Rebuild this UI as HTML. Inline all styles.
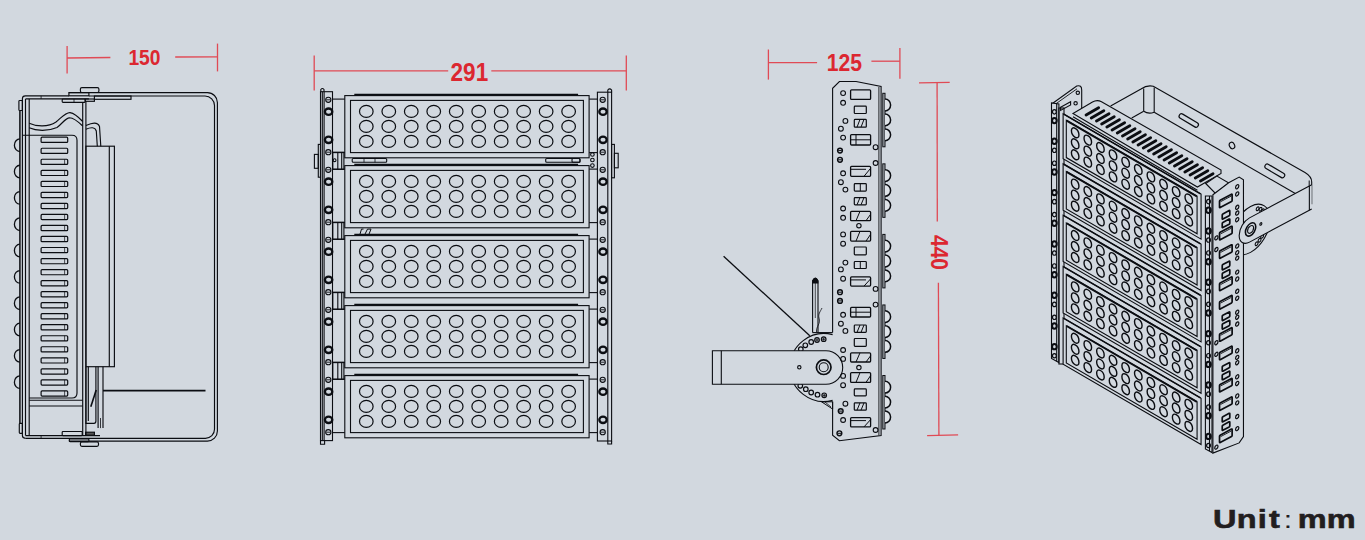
<!DOCTYPE html><html><head><meta charset="utf-8"><title>Dimensions</title><style>html,body{margin:0;padding:0;background:#d2d8df;}body{width:1365px;height:540px;overflow:hidden;font-family:"Liberation Sans",sans-serif;}svg{display:block;}</style></head><body>
<svg width="1365" height="540" viewBox="0 0 1365 540">
<rect width="1365" height="540" fill="#d2d8df"/>
<g stroke="#0b0d12" stroke-width="1.15" fill="none">
<path d="M68.9 92.6 H207.4 A10 10 0 0 1 217.4 102.6 V431.1 A10 10 0 0 1 207.4 441.1 H68.9"/>
<path d="M88.9 96 H205 A9.5 9.5 0 0 1 214.5 105.5 V429.3 A9 9 0 0 1 205.5 438.3 H25.4"/>
<rect x="94.4" y="96" width="36.6" height="3.3"/>
<rect x="68.9" y="92.6" width="20" height="3.2"/>
<rect x="80.4" y="87.6" width="18.5" height="4.9" rx="1.5"/>
<rect x="62.2" y="99" width="23" height="3.4" rx="0.8"/>
<rect x="85.2" y="99" width="9.2" height="2.3"/>
<line x1="74" y1="99" x2="74" y2="102.4" stroke-width="0.8"/>
<path d="M22.4 112 V98.7 Q22.4 95.8 25.4 95.8 H68.9"/>
<line x1="25.5" y1="98.9" x2="88.9" y2="98.9"/>
<line x1="41.1" y1="95.8" x2="41.1" y2="98.9" stroke-width="0.8"/>
<rect x="18.9" y="100.5" width="3.5" height="10" rx="0.8"/>
<line x1="25.5" y1="435.6" x2="100" y2="435.6"/>
<path d="M22.4 420 V435.6 Q22.4 438.3 25.4 438.3"/>
<line x1="41.1" y1="435.6" x2="41.1" y2="438.3" stroke-width="0.8"/>
<rect x="19.3" y="423.3" width="3.1" height="10" rx="0.8"/>
<rect x="62.2" y="431.5" width="20" height="4.1" rx="0.8"/>
<rect x="85.6" y="432.2" width="8.8" height="3" fill="#555"/>
<rect x="69.3" y="438.9" width="19.6" height="2.7" rx="0.8"/>
<rect x="80.4" y="441.9" width="18.1" height="4.4" rx="1.5"/>
<line x1="19.9" y1="111" x2="19.9" y2="423" stroke-width="1.5"/>
<line x1="22.4" y1="112" x2="22.4" y2="420"/>
<line x1="25.5" y1="98.9" x2="25.5" y2="435.6"/>
<line x1="29.2" y1="98.9" x2="29.2" y2="435.6"/>
<path d="M22.4 135.2 H72 Q77 135.2 77 140.2 V393 Q77 398 72 398 H29.2"/>
<line x1="29.2" y1="400.2" x2="82.7" y2="400.2"/>
<line x1="29.2" y1="406" x2="82.7" y2="406"/>
<line x1="82.7" y1="102.4" x2="82.7" y2="435.6"/>
<line x1="85.9" y1="101.3" x2="85.9" y2="435.6"/>
<path d="M29.2 123.3 C36 126.5 48 127.5 56 122 C62 117 66 112.3 70 112.6 C75 113.3 79 117.5 82.7 121.5"/>
<path d="M29.2 127.8 C36 131 48 131.5 57 127.5 C62 124 65.5 117.8 69.5 117.8 C74 118 78.5 122 82.7 126"/>
<path d="M85.9 125.5 C92 123 97.5 121.5 99.5 126.5 L100.8 146.2"/>
<path d="M85.9 129.2 C91 127 95 127 96.3 131 L97.3 146.2"/>
<rect x="85.9" y="146.2" width="28.5" height="220.5"/>
<line x1="109.3" y1="146.2" x2="109.3" y2="366.7"/>
<path d="M85.9 366.7 V423.3 H94 Q95.9 423.3 95.9 421 V366.7"/>
<line x1="88.3" y1="366.7" x2="88.3" y2="421"/>
<line x1="98.1" y1="366.7" x2="98.1" y2="428.1"/>
<line x1="103" y1="366.7" x2="103" y2="428.1"/>
<line x1="100.5" y1="418" x2="100.5" y2="428.1" stroke-width="0.8"/>
<path d="M90.8 406.7 L96.2 390" stroke-width="1.6"/>
<rect x="41.1" y="137.2" width="26.6" height="5.2" stroke-width="1.2" rx="1"/>
<rect x="41.1" y="148.23" width="26.6" height="5.2" stroke-width="1.2" rx="1"/>
<rect x="41.1" y="159.26" width="26.6" height="5.2" stroke-width="1.2" rx="1"/>
<line x1="64.6" y1="159.26" x2="64.6" y2="164.46" stroke-width="0.7"/>
<rect x="41.1" y="170.29" width="26.6" height="5.2" stroke-width="1.2" rx="1"/>
<line x1="64.6" y1="170.29" x2="64.6" y2="175.49" stroke-width="0.7"/>
<rect x="41.1" y="181.32" width="26.6" height="5.2" stroke-width="1.2" rx="1"/>
<line x1="64.6" y1="181.32" x2="64.6" y2="186.52" stroke-width="0.7"/>
<rect x="41.1" y="192.35" width="26.6" height="5.2" stroke-width="1.2" rx="1"/>
<line x1="64.6" y1="192.35" x2="64.6" y2="197.55" stroke-width="0.7"/>
<rect x="41.1" y="203.38" width="26.6" height="5.2" stroke-width="1.2" rx="1"/>
<line x1="64.6" y1="203.38" x2="64.6" y2="208.58" stroke-width="0.7"/>
<rect x="41.1" y="214.41" width="26.6" height="5.2" stroke-width="1.2" rx="1"/>
<line x1="64.6" y1="214.41" x2="64.6" y2="219.61" stroke-width="0.7"/>
<rect x="41.1" y="225.44" width="26.6" height="5.2" stroke-width="1.2" rx="1"/>
<line x1="64.6" y1="225.44" x2="64.6" y2="230.64" stroke-width="0.7"/>
<rect x="41.1" y="236.47" width="26.6" height="5.2" stroke-width="1.2" rx="1"/>
<line x1="64.6" y1="236.47" x2="64.6" y2="241.67" stroke-width="0.7"/>
<rect x="41.1" y="247.5" width="26.6" height="5.2" stroke-width="1.2" rx="1"/>
<line x1="64.6" y1="247.5" x2="64.6" y2="252.7" stroke-width="0.7"/>
<rect x="41.1" y="258.53" width="26.6" height="5.2" stroke-width="1.2" rx="1"/>
<line x1="64.6" y1="258.53" x2="64.6" y2="263.73" stroke-width="0.7"/>
<rect x="41.1" y="269.56" width="26.6" height="5.2" stroke-width="1.2" rx="1"/>
<line x1="64.6" y1="269.56" x2="64.6" y2="274.76" stroke-width="0.7"/>
<rect x="41.1" y="280.59" width="26.6" height="5.2" stroke-width="1.2" rx="1"/>
<line x1="64.6" y1="280.59" x2="64.6" y2="285.79" stroke-width="0.7"/>
<rect x="41.1" y="291.62" width="26.6" height="5.2" stroke-width="1.2" rx="1"/>
<line x1="64.6" y1="291.62" x2="64.6" y2="296.82" stroke-width="0.7"/>
<rect x="41.1" y="302.65" width="26.6" height="5.2" stroke-width="1.2" rx="1"/>
<line x1="64.6" y1="302.65" x2="64.6" y2="307.85" stroke-width="0.7"/>
<rect x="41.1" y="313.68" width="26.6" height="5.2" stroke-width="1.2" rx="1"/>
<line x1="64.6" y1="313.68" x2="64.6" y2="318.88" stroke-width="0.7"/>
<rect x="41.1" y="324.71" width="26.6" height="5.2" stroke-width="1.2" rx="1"/>
<line x1="64.6" y1="324.71" x2="64.6" y2="329.91" stroke-width="0.7"/>
<rect x="41.1" y="335.74" width="26.6" height="5.2" stroke-width="1.2" rx="1"/>
<line x1="64.6" y1="335.74" x2="64.6" y2="340.94" stroke-width="0.7"/>
<rect x="41.1" y="346.77" width="26.6" height="5.2" stroke-width="1.2" rx="1"/>
<line x1="64.6" y1="346.77" x2="64.6" y2="351.97" stroke-width="0.7"/>
<rect x="41.1" y="357.8" width="26.6" height="5.2" stroke-width="1.2" rx="1"/>
<line x1="64.6" y1="357.8" x2="64.6" y2="363" stroke-width="0.7"/>
<rect x="41.1" y="368.83" width="26.6" height="5.2" stroke-width="1.2" rx="1"/>
<line x1="64.6" y1="368.83" x2="64.6" y2="374.03" stroke-width="0.7"/>
<rect x="41.1" y="379.86" width="26.6" height="5.2" stroke-width="1.2" rx="1"/>
<line x1="64.6" y1="379.86" x2="64.6" y2="385.06" stroke-width="0.7"/>
<rect x="41.1" y="390.89" width="26.6" height="5.2" stroke-width="1.2" rx="1"/>
<line x1="64.6" y1="390.89" x2="64.6" y2="396.09" stroke-width="0.7"/>
<path d="M19.9 138.9 A5.5 6.3 0 0 0 19.9 151.5" stroke-width="1.3"/>
<path d="M19.9 165.23 A5.5 6.3 0 0 0 19.9 177.83" stroke-width="1.3"/>
<path d="M19.9 191.56 A5.5 6.3 0 0 0 19.9 204.16" stroke-width="1.3"/>
<path d="M19.9 217.89 A5.5 6.3 0 0 0 19.9 230.49" stroke-width="1.3"/>
<path d="M19.9 244.22 A5.5 6.3 0 0 0 19.9 256.82" stroke-width="1.3"/>
<path d="M19.9 270.55 A5.5 6.3 0 0 0 19.9 283.15" stroke-width="1.3"/>
<path d="M19.9 296.88 A5.5 6.3 0 0 0 19.9 309.48" stroke-width="1.3"/>
<path d="M19.9 323.21 A5.5 6.3 0 0 0 19.9 335.81" stroke-width="1.3"/>
<path d="M19.9 349.54 A5.5 6.3 0 0 0 19.9 362.14" stroke-width="1.3"/>
<path d="M19.9 375.87 A5.5 6.3 0 0 0 19.9 388.47" stroke-width="1.3"/>
</g>
<line x1="103" y1="390.7" x2="205.5" y2="390.7" stroke-width="1.8" stroke="#0b0d12"/>
<g stroke="#0b0d12" stroke-width="1.1" fill="none">
<rect x="320.5" y="91.7" width="12" height="348.9"/>
<line x1="322.3" y1="91.7" x2="322.3" y2="440.6"/>
<line x1="324.1" y1="91.7" x2="324.1" y2="440.6"/>
<path d="M320.8 91.7 V89.5 Q322.4 87.6 324 89.5 V91.7"/>
<path d="M320.5 440.6 V444.3 H324.6 V440.6"/>
<rect x="597.4" y="92.2" width="14.2" height="348.8"/>
<line x1="607.8" y1="92.2" x2="607.8" y2="441"/>
<path d="M607.8 92.2 V90 Q609.7 87.8 611.6 90 V92.2"/>
<path d="M607.8 441 V444 H611.6 V441"/>
<rect x="318.3" y="144.4" width="2.2" height="32.8"/>
<rect x="314.4" y="154.4" width="3.9" height="13.9"/>
<rect x="611.6" y="144.4" width="2.8" height="33.4"/>
<rect x="614.4" y="153.3" width="3.8" height="14.5"/>
<circle cx="328.3" cy="99.8" r="2.6" stroke-width="1.1"/>
<line x1="326.3" y1="99.8" x2="330.3" y2="99.8" stroke-width="0.9"/>
<ellipse cx="328.6" cy="111.7" rx="3.7" ry="3.2" stroke-width="2.3"/>
<ellipse cx="328.6" cy="139.8" rx="3.7" ry="3.2" stroke-width="2.3"/>
<circle cx="328.3" cy="152.2" r="2.6" stroke-width="1.1"/>
<line x1="326.3" y1="152.2" x2="330.3" y2="152.2" stroke-width="0.9"/>
<circle cx="602.7" cy="99.8" r="2.6" stroke-width="1.1"/>
<line x1="600.7" y1="99.8" x2="604.7" y2="99.8" stroke-width="0.9"/>
<ellipse cx="603" cy="111.7" rx="3.7" ry="3.2" stroke-width="2.3"/>
<ellipse cx="603" cy="139.8" rx="3.7" ry="3.2" stroke-width="2.3"/>
<circle cx="602.7" cy="152.2" r="2.6" stroke-width="1.1"/>
<line x1="600.7" y1="152.2" x2="604.7" y2="152.2" stroke-width="0.9"/>
<circle cx="328.3" cy="169.8" r="2.6" stroke-width="1.1"/>
<line x1="326.3" y1="169.8" x2="330.3" y2="169.8" stroke-width="0.9"/>
<ellipse cx="328.6" cy="181.7" rx="3.7" ry="3.2" stroke-width="2.3"/>
<ellipse cx="328.6" cy="209.8" rx="3.7" ry="3.2" stroke-width="2.3"/>
<circle cx="328.3" cy="222.2" r="2.6" stroke-width="1.1"/>
<line x1="326.3" y1="222.2" x2="330.3" y2="222.2" stroke-width="0.9"/>
<circle cx="602.7" cy="169.8" r="2.6" stroke-width="1.1"/>
<line x1="600.7" y1="169.8" x2="604.7" y2="169.8" stroke-width="0.9"/>
<ellipse cx="603" cy="181.7" rx="3.7" ry="3.2" stroke-width="2.3"/>
<ellipse cx="603" cy="209.8" rx="3.7" ry="3.2" stroke-width="2.3"/>
<circle cx="602.7" cy="222.2" r="2.6" stroke-width="1.1"/>
<line x1="600.7" y1="222.2" x2="604.7" y2="222.2" stroke-width="0.9"/>
<circle cx="328.3" cy="239.8" r="2.6" stroke-width="1.1"/>
<line x1="326.3" y1="239.8" x2="330.3" y2="239.8" stroke-width="0.9"/>
<ellipse cx="328.6" cy="251.7" rx="3.7" ry="3.2" stroke-width="2.3"/>
<ellipse cx="328.6" cy="279.8" rx="3.7" ry="3.2" stroke-width="2.3"/>
<circle cx="328.3" cy="292.2" r="2.6" stroke-width="1.1"/>
<line x1="326.3" y1="292.2" x2="330.3" y2="292.2" stroke-width="0.9"/>
<circle cx="602.7" cy="239.8" r="2.6" stroke-width="1.1"/>
<line x1="600.7" y1="239.8" x2="604.7" y2="239.8" stroke-width="0.9"/>
<ellipse cx="603" cy="251.7" rx="3.7" ry="3.2" stroke-width="2.3"/>
<ellipse cx="603" cy="279.8" rx="3.7" ry="3.2" stroke-width="2.3"/>
<circle cx="602.7" cy="292.2" r="2.6" stroke-width="1.1"/>
<line x1="600.7" y1="292.2" x2="604.7" y2="292.2" stroke-width="0.9"/>
<circle cx="328.3" cy="309.8" r="2.6" stroke-width="1.1"/>
<line x1="326.3" y1="309.8" x2="330.3" y2="309.8" stroke-width="0.9"/>
<ellipse cx="328.6" cy="321.7" rx="3.7" ry="3.2" stroke-width="2.3"/>
<ellipse cx="328.6" cy="349.8" rx="3.7" ry="3.2" stroke-width="2.3"/>
<circle cx="328.3" cy="362.2" r="2.6" stroke-width="1.1"/>
<line x1="326.3" y1="362.2" x2="330.3" y2="362.2" stroke-width="0.9"/>
<circle cx="602.7" cy="309.8" r="2.6" stroke-width="1.1"/>
<line x1="600.7" y1="309.8" x2="604.7" y2="309.8" stroke-width="0.9"/>
<ellipse cx="603" cy="321.7" rx="3.7" ry="3.2" stroke-width="2.3"/>
<ellipse cx="603" cy="349.8" rx="3.7" ry="3.2" stroke-width="2.3"/>
<circle cx="602.7" cy="362.2" r="2.6" stroke-width="1.1"/>
<line x1="600.7" y1="362.2" x2="604.7" y2="362.2" stroke-width="0.9"/>
<circle cx="328.3" cy="379.8" r="2.6" stroke-width="1.1"/>
<line x1="326.3" y1="379.8" x2="330.3" y2="379.8" stroke-width="0.9"/>
<ellipse cx="328.6" cy="391.7" rx="3.7" ry="3.2" stroke-width="2.3"/>
<ellipse cx="328.6" cy="419.8" rx="3.7" ry="3.2" stroke-width="2.3"/>
<circle cx="328.3" cy="432.2" r="2.6" stroke-width="1.1"/>
<line x1="326.3" y1="432.2" x2="330.3" y2="432.2" stroke-width="0.9"/>
<circle cx="602.7" cy="379.8" r="2.6" stroke-width="1.1"/>
<line x1="600.7" y1="379.8" x2="604.7" y2="379.8" stroke-width="0.9"/>
<ellipse cx="603" cy="391.7" rx="3.7" ry="3.2" stroke-width="2.3"/>
<ellipse cx="603" cy="419.8" rx="3.7" ry="3.2" stroke-width="2.3"/>
<circle cx="602.7" cy="432.2" r="2.6" stroke-width="1.1"/>
<line x1="600.7" y1="432.2" x2="604.7" y2="432.2" stroke-width="0.9"/>
<rect x="344.8" y="95.6" width="244.3" height="62.2"/>
<rect x="350.5" y="100.4" width="232.9" height="52.2"/>
<line x1="354.3" y1="94.7" x2="578.1" y2="94.7" stroke-width="1.7"/>
<ellipse cx="366.3" cy="111.4" rx="6.8" ry="6" stroke-width="1.2"/>
<ellipse cx="366.3" cy="126.4" rx="6.8" ry="6" stroke-width="1.2"/>
<ellipse cx="366.3" cy="141.4" rx="6.8" ry="6" stroke-width="1.2"/>
<ellipse cx="388.78" cy="111.4" rx="6.8" ry="6" stroke-width="1.2"/>
<ellipse cx="388.78" cy="126.4" rx="6.8" ry="6" stroke-width="1.2"/>
<ellipse cx="388.78" cy="141.4" rx="6.8" ry="6" stroke-width="1.2"/>
<ellipse cx="411.26" cy="111.4" rx="6.8" ry="6" stroke-width="1.2"/>
<ellipse cx="411.26" cy="126.4" rx="6.8" ry="6" stroke-width="1.2"/>
<ellipse cx="411.26" cy="141.4" rx="6.8" ry="6" stroke-width="1.2"/>
<ellipse cx="433.74" cy="111.4" rx="6.8" ry="6" stroke-width="1.2"/>
<ellipse cx="433.74" cy="126.4" rx="6.8" ry="6" stroke-width="1.2"/>
<ellipse cx="433.74" cy="141.4" rx="6.8" ry="6" stroke-width="1.2"/>
<ellipse cx="456.22" cy="111.4" rx="6.8" ry="6" stroke-width="1.2"/>
<ellipse cx="456.22" cy="126.4" rx="6.8" ry="6" stroke-width="1.2"/>
<ellipse cx="456.22" cy="141.4" rx="6.8" ry="6" stroke-width="1.2"/>
<ellipse cx="478.7" cy="111.4" rx="6.8" ry="6" stroke-width="1.2"/>
<ellipse cx="478.7" cy="126.4" rx="6.8" ry="6" stroke-width="1.2"/>
<ellipse cx="478.7" cy="141.4" rx="6.8" ry="6" stroke-width="1.2"/>
<ellipse cx="501.18" cy="111.4" rx="6.8" ry="6" stroke-width="1.2"/>
<ellipse cx="501.18" cy="126.4" rx="6.8" ry="6" stroke-width="1.2"/>
<ellipse cx="501.18" cy="141.4" rx="6.8" ry="6" stroke-width="1.2"/>
<ellipse cx="523.66" cy="111.4" rx="6.8" ry="6" stroke-width="1.2"/>
<ellipse cx="523.66" cy="126.4" rx="6.8" ry="6" stroke-width="1.2"/>
<ellipse cx="523.66" cy="141.4" rx="6.8" ry="6" stroke-width="1.2"/>
<ellipse cx="546.14" cy="111.4" rx="6.8" ry="6" stroke-width="1.2"/>
<ellipse cx="546.14" cy="126.4" rx="6.8" ry="6" stroke-width="1.2"/>
<ellipse cx="546.14" cy="141.4" rx="6.8" ry="6" stroke-width="1.2"/>
<ellipse cx="568.62" cy="111.4" rx="6.8" ry="6" stroke-width="1.2"/>
<ellipse cx="568.62" cy="126.4" rx="6.8" ry="6" stroke-width="1.2"/>
<ellipse cx="568.62" cy="141.4" rx="6.8" ry="6" stroke-width="1.2"/>
<line x1="332.5" y1="99.1" x2="344.8" y2="99.1"/>
<line x1="332.5" y1="152.6" x2="344.8" y2="152.6"/>
<line x1="589.1" y1="99.1" x2="597.4" y2="99.1"/>
<line x1="589.1" y1="152.6" x2="597.4" y2="152.6"/>
<rect x="344.8" y="165.6" width="244.3" height="62.2"/>
<rect x="350.5" y="170.4" width="232.9" height="52.2"/>
<line x1="354.3" y1="164.7" x2="578.1" y2="164.7" stroke-width="1.7"/>
<ellipse cx="366.3" cy="181.4" rx="6.8" ry="6" stroke-width="1.2"/>
<ellipse cx="366.3" cy="196.4" rx="6.8" ry="6" stroke-width="1.2"/>
<ellipse cx="366.3" cy="211.4" rx="6.8" ry="6" stroke-width="1.2"/>
<ellipse cx="388.78" cy="181.4" rx="6.8" ry="6" stroke-width="1.2"/>
<ellipse cx="388.78" cy="196.4" rx="6.8" ry="6" stroke-width="1.2"/>
<ellipse cx="388.78" cy="211.4" rx="6.8" ry="6" stroke-width="1.2"/>
<ellipse cx="411.26" cy="181.4" rx="6.8" ry="6" stroke-width="1.2"/>
<ellipse cx="411.26" cy="196.4" rx="6.8" ry="6" stroke-width="1.2"/>
<ellipse cx="411.26" cy="211.4" rx="6.8" ry="6" stroke-width="1.2"/>
<ellipse cx="433.74" cy="181.4" rx="6.8" ry="6" stroke-width="1.2"/>
<ellipse cx="433.74" cy="196.4" rx="6.8" ry="6" stroke-width="1.2"/>
<ellipse cx="433.74" cy="211.4" rx="6.8" ry="6" stroke-width="1.2"/>
<ellipse cx="456.22" cy="181.4" rx="6.8" ry="6" stroke-width="1.2"/>
<ellipse cx="456.22" cy="196.4" rx="6.8" ry="6" stroke-width="1.2"/>
<ellipse cx="456.22" cy="211.4" rx="6.8" ry="6" stroke-width="1.2"/>
<ellipse cx="478.7" cy="181.4" rx="6.8" ry="6" stroke-width="1.2"/>
<ellipse cx="478.7" cy="196.4" rx="6.8" ry="6" stroke-width="1.2"/>
<ellipse cx="478.7" cy="211.4" rx="6.8" ry="6" stroke-width="1.2"/>
<ellipse cx="501.18" cy="181.4" rx="6.8" ry="6" stroke-width="1.2"/>
<ellipse cx="501.18" cy="196.4" rx="6.8" ry="6" stroke-width="1.2"/>
<ellipse cx="501.18" cy="211.4" rx="6.8" ry="6" stroke-width="1.2"/>
<ellipse cx="523.66" cy="181.4" rx="6.8" ry="6" stroke-width="1.2"/>
<ellipse cx="523.66" cy="196.4" rx="6.8" ry="6" stroke-width="1.2"/>
<ellipse cx="523.66" cy="211.4" rx="6.8" ry="6" stroke-width="1.2"/>
<ellipse cx="546.14" cy="181.4" rx="6.8" ry="6" stroke-width="1.2"/>
<ellipse cx="546.14" cy="196.4" rx="6.8" ry="6" stroke-width="1.2"/>
<ellipse cx="546.14" cy="211.4" rx="6.8" ry="6" stroke-width="1.2"/>
<ellipse cx="568.62" cy="181.4" rx="6.8" ry="6" stroke-width="1.2"/>
<ellipse cx="568.62" cy="196.4" rx="6.8" ry="6" stroke-width="1.2"/>
<ellipse cx="568.62" cy="211.4" rx="6.8" ry="6" stroke-width="1.2"/>
<line x1="332.5" y1="169.1" x2="344.8" y2="169.1"/>
<line x1="332.5" y1="222.6" x2="344.8" y2="222.6"/>
<line x1="589.1" y1="169.1" x2="597.4" y2="169.1"/>
<line x1="589.1" y1="222.6" x2="597.4" y2="222.6"/>
<rect x="344.8" y="235.6" width="244.3" height="62.2"/>
<rect x="350.5" y="240.4" width="232.9" height="52.2"/>
<line x1="354.3" y1="234.7" x2="578.1" y2="234.7" stroke-width="1.7"/>
<ellipse cx="366.3" cy="251.4" rx="6.8" ry="6" stroke-width="1.2"/>
<ellipse cx="366.3" cy="266.4" rx="6.8" ry="6" stroke-width="1.2"/>
<ellipse cx="366.3" cy="281.4" rx="6.8" ry="6" stroke-width="1.2"/>
<ellipse cx="388.78" cy="251.4" rx="6.8" ry="6" stroke-width="1.2"/>
<ellipse cx="388.78" cy="266.4" rx="6.8" ry="6" stroke-width="1.2"/>
<ellipse cx="388.78" cy="281.4" rx="6.8" ry="6" stroke-width="1.2"/>
<ellipse cx="411.26" cy="251.4" rx="6.8" ry="6" stroke-width="1.2"/>
<ellipse cx="411.26" cy="266.4" rx="6.8" ry="6" stroke-width="1.2"/>
<ellipse cx="411.26" cy="281.4" rx="6.8" ry="6" stroke-width="1.2"/>
<ellipse cx="433.74" cy="251.4" rx="6.8" ry="6" stroke-width="1.2"/>
<ellipse cx="433.74" cy="266.4" rx="6.8" ry="6" stroke-width="1.2"/>
<ellipse cx="433.74" cy="281.4" rx="6.8" ry="6" stroke-width="1.2"/>
<ellipse cx="456.22" cy="251.4" rx="6.8" ry="6" stroke-width="1.2"/>
<ellipse cx="456.22" cy="266.4" rx="6.8" ry="6" stroke-width="1.2"/>
<ellipse cx="456.22" cy="281.4" rx="6.8" ry="6" stroke-width="1.2"/>
<ellipse cx="478.7" cy="251.4" rx="6.8" ry="6" stroke-width="1.2"/>
<ellipse cx="478.7" cy="266.4" rx="6.8" ry="6" stroke-width="1.2"/>
<ellipse cx="478.7" cy="281.4" rx="6.8" ry="6" stroke-width="1.2"/>
<ellipse cx="501.18" cy="251.4" rx="6.8" ry="6" stroke-width="1.2"/>
<ellipse cx="501.18" cy="266.4" rx="6.8" ry="6" stroke-width="1.2"/>
<ellipse cx="501.18" cy="281.4" rx="6.8" ry="6" stroke-width="1.2"/>
<ellipse cx="523.66" cy="251.4" rx="6.8" ry="6" stroke-width="1.2"/>
<ellipse cx="523.66" cy="266.4" rx="6.8" ry="6" stroke-width="1.2"/>
<ellipse cx="523.66" cy="281.4" rx="6.8" ry="6" stroke-width="1.2"/>
<ellipse cx="546.14" cy="251.4" rx="6.8" ry="6" stroke-width="1.2"/>
<ellipse cx="546.14" cy="266.4" rx="6.8" ry="6" stroke-width="1.2"/>
<ellipse cx="546.14" cy="281.4" rx="6.8" ry="6" stroke-width="1.2"/>
<ellipse cx="568.62" cy="251.4" rx="6.8" ry="6" stroke-width="1.2"/>
<ellipse cx="568.62" cy="266.4" rx="6.8" ry="6" stroke-width="1.2"/>
<ellipse cx="568.62" cy="281.4" rx="6.8" ry="6" stroke-width="1.2"/>
<line x1="332.5" y1="239.1" x2="344.8" y2="239.1"/>
<line x1="332.5" y1="292.6" x2="344.8" y2="292.6"/>
<line x1="589.1" y1="239.1" x2="597.4" y2="239.1"/>
<line x1="589.1" y1="292.6" x2="597.4" y2="292.6"/>
<rect x="344.8" y="305.6" width="244.3" height="62.2"/>
<rect x="350.5" y="310.4" width="232.9" height="52.2"/>
<line x1="354.3" y1="304.7" x2="578.1" y2="304.7" stroke-width="1.7"/>
<ellipse cx="366.3" cy="321.4" rx="6.8" ry="6" stroke-width="1.2"/>
<ellipse cx="366.3" cy="336.4" rx="6.8" ry="6" stroke-width="1.2"/>
<ellipse cx="366.3" cy="351.4" rx="6.8" ry="6" stroke-width="1.2"/>
<ellipse cx="388.78" cy="321.4" rx="6.8" ry="6" stroke-width="1.2"/>
<ellipse cx="388.78" cy="336.4" rx="6.8" ry="6" stroke-width="1.2"/>
<ellipse cx="388.78" cy="351.4" rx="6.8" ry="6" stroke-width="1.2"/>
<ellipse cx="411.26" cy="321.4" rx="6.8" ry="6" stroke-width="1.2"/>
<ellipse cx="411.26" cy="336.4" rx="6.8" ry="6" stroke-width="1.2"/>
<ellipse cx="411.26" cy="351.4" rx="6.8" ry="6" stroke-width="1.2"/>
<ellipse cx="433.74" cy="321.4" rx="6.8" ry="6" stroke-width="1.2"/>
<ellipse cx="433.74" cy="336.4" rx="6.8" ry="6" stroke-width="1.2"/>
<ellipse cx="433.74" cy="351.4" rx="6.8" ry="6" stroke-width="1.2"/>
<ellipse cx="456.22" cy="321.4" rx="6.8" ry="6" stroke-width="1.2"/>
<ellipse cx="456.22" cy="336.4" rx="6.8" ry="6" stroke-width="1.2"/>
<ellipse cx="456.22" cy="351.4" rx="6.8" ry="6" stroke-width="1.2"/>
<ellipse cx="478.7" cy="321.4" rx="6.8" ry="6" stroke-width="1.2"/>
<ellipse cx="478.7" cy="336.4" rx="6.8" ry="6" stroke-width="1.2"/>
<ellipse cx="478.7" cy="351.4" rx="6.8" ry="6" stroke-width="1.2"/>
<ellipse cx="501.18" cy="321.4" rx="6.8" ry="6" stroke-width="1.2"/>
<ellipse cx="501.18" cy="336.4" rx="6.8" ry="6" stroke-width="1.2"/>
<ellipse cx="501.18" cy="351.4" rx="6.8" ry="6" stroke-width="1.2"/>
<ellipse cx="523.66" cy="321.4" rx="6.8" ry="6" stroke-width="1.2"/>
<ellipse cx="523.66" cy="336.4" rx="6.8" ry="6" stroke-width="1.2"/>
<ellipse cx="523.66" cy="351.4" rx="6.8" ry="6" stroke-width="1.2"/>
<ellipse cx="546.14" cy="321.4" rx="6.8" ry="6" stroke-width="1.2"/>
<ellipse cx="546.14" cy="336.4" rx="6.8" ry="6" stroke-width="1.2"/>
<ellipse cx="546.14" cy="351.4" rx="6.8" ry="6" stroke-width="1.2"/>
<ellipse cx="568.62" cy="321.4" rx="6.8" ry="6" stroke-width="1.2"/>
<ellipse cx="568.62" cy="336.4" rx="6.8" ry="6" stroke-width="1.2"/>
<ellipse cx="568.62" cy="351.4" rx="6.8" ry="6" stroke-width="1.2"/>
<line x1="332.5" y1="309.1" x2="344.8" y2="309.1"/>
<line x1="332.5" y1="362.6" x2="344.8" y2="362.6"/>
<line x1="589.1" y1="309.1" x2="597.4" y2="309.1"/>
<line x1="589.1" y1="362.6" x2="597.4" y2="362.6"/>
<rect x="344.8" y="375.6" width="244.3" height="62.2"/>
<rect x="350.5" y="380.4" width="232.9" height="52.2"/>
<line x1="354.3" y1="374.7" x2="578.1" y2="374.7" stroke-width="1.7"/>
<ellipse cx="366.3" cy="391.4" rx="6.8" ry="6" stroke-width="1.2"/>
<ellipse cx="366.3" cy="406.4" rx="6.8" ry="6" stroke-width="1.2"/>
<ellipse cx="366.3" cy="421.4" rx="6.8" ry="6" stroke-width="1.2"/>
<ellipse cx="388.78" cy="391.4" rx="6.8" ry="6" stroke-width="1.2"/>
<ellipse cx="388.78" cy="406.4" rx="6.8" ry="6" stroke-width="1.2"/>
<ellipse cx="388.78" cy="421.4" rx="6.8" ry="6" stroke-width="1.2"/>
<ellipse cx="411.26" cy="391.4" rx="6.8" ry="6" stroke-width="1.2"/>
<ellipse cx="411.26" cy="406.4" rx="6.8" ry="6" stroke-width="1.2"/>
<ellipse cx="411.26" cy="421.4" rx="6.8" ry="6" stroke-width="1.2"/>
<ellipse cx="433.74" cy="391.4" rx="6.8" ry="6" stroke-width="1.2"/>
<ellipse cx="433.74" cy="406.4" rx="6.8" ry="6" stroke-width="1.2"/>
<ellipse cx="433.74" cy="421.4" rx="6.8" ry="6" stroke-width="1.2"/>
<ellipse cx="456.22" cy="391.4" rx="6.8" ry="6" stroke-width="1.2"/>
<ellipse cx="456.22" cy="406.4" rx="6.8" ry="6" stroke-width="1.2"/>
<ellipse cx="456.22" cy="421.4" rx="6.8" ry="6" stroke-width="1.2"/>
<ellipse cx="478.7" cy="391.4" rx="6.8" ry="6" stroke-width="1.2"/>
<ellipse cx="478.7" cy="406.4" rx="6.8" ry="6" stroke-width="1.2"/>
<ellipse cx="478.7" cy="421.4" rx="6.8" ry="6" stroke-width="1.2"/>
<ellipse cx="501.18" cy="391.4" rx="6.8" ry="6" stroke-width="1.2"/>
<ellipse cx="501.18" cy="406.4" rx="6.8" ry="6" stroke-width="1.2"/>
<ellipse cx="501.18" cy="421.4" rx="6.8" ry="6" stroke-width="1.2"/>
<ellipse cx="523.66" cy="391.4" rx="6.8" ry="6" stroke-width="1.2"/>
<ellipse cx="523.66" cy="406.4" rx="6.8" ry="6" stroke-width="1.2"/>
<ellipse cx="523.66" cy="421.4" rx="6.8" ry="6" stroke-width="1.2"/>
<ellipse cx="546.14" cy="391.4" rx="6.8" ry="6" stroke-width="1.2"/>
<ellipse cx="546.14" cy="406.4" rx="6.8" ry="6" stroke-width="1.2"/>
<ellipse cx="546.14" cy="421.4" rx="6.8" ry="6" stroke-width="1.2"/>
<ellipse cx="568.62" cy="391.4" rx="6.8" ry="6" stroke-width="1.2"/>
<ellipse cx="568.62" cy="406.4" rx="6.8" ry="6" stroke-width="1.2"/>
<ellipse cx="568.62" cy="421.4" rx="6.8" ry="6" stroke-width="1.2"/>
<line x1="332.5" y1="379.1" x2="344.8" y2="379.1"/>
<line x1="332.5" y1="432.6" x2="344.8" y2="432.6"/>
<line x1="589.1" y1="379.1" x2="597.4" y2="379.1"/>
<line x1="589.1" y1="432.6" x2="597.4" y2="432.6"/>
<rect x="332.8" y="152.2" width="11.1" height="17.2"/>
<line x1="337.8" y1="152.2" x2="337.8" y2="169.4"/>
<line x1="341.7" y1="152.2" x2="341.7" y2="169.4"/>
<circle cx="334.6" cy="160.2" r="1.4"/>
<rect x="352.2" y="158.5" width="34.5" height="3.8" rx="1"/>
<line x1="364" y1="158.5" x2="364" y2="162.3" stroke-width="0.8"/>
<line x1="375" y1="158.5" x2="375" y2="162.3" stroke-width="0.8"/>
<rect x="545.7" y="158.5" width="34.3" height="3.8" rx="1"/>
<rect x="572" y="158.5" width="8" height="3.8" rx="1"/>
<circle cx="592.4" cy="154.4" r="1.8"/>
<circle cx="592.4" cy="160" r="1.8"/>
<circle cx="592.4" cy="165.6" r="1.8"/>
<rect x="332.8" y="222.2" width="11.1" height="17.2"/>
<line x1="337.8" y1="222.2" x2="337.8" y2="239.4"/>
<line x1="341.7" y1="222.2" x2="341.7" y2="239.4"/>
<line x1="360" y1="234.1" x2="361.5" y2="229.1" stroke-width="1"/>
<line x1="361.5" y1="229.1" x2="363.5" y2="229.1" stroke-width="1"/>
<line x1="365" y1="234.1" x2="367.5" y2="229.1" stroke-width="1"/>
<line x1="367.5" y1="229.1" x2="371" y2="229.1" stroke-width="1"/>
<line x1="369" y1="234.1" x2="371" y2="229.1" stroke-width="1"/>
<rect x="332.8" y="292.2" width="11.1" height="17.2"/>
<line x1="337.8" y1="292.2" x2="337.8" y2="309.4"/>
<line x1="341.7" y1="292.2" x2="341.7" y2="309.4"/>
<rect x="332.8" y="362.2" width="11.1" height="17.2"/>
<line x1="337.8" y1="362.2" x2="337.8" y2="379.4"/>
<line x1="341.7" y1="362.2" x2="341.7" y2="379.4"/>
</g>
<g stroke="#0b0d12" stroke-width="1.1" fill="none">
<line x1="723.6" y1="256.3" x2="809.8" y2="335.8" stroke-width="1.3"/>
<path d="M812.6 332.6 V281 Q815.3 275 818 281 V332.6"/>
<path d="M812.8 283 V280.5 Q815.3 276 817.8 280.5 V283 Z" fill="#0b0d12"/>
<line x1="815.3" y1="282" x2="815.3" y2="318" stroke-width="0.7"/>
<path d="M816.5 332 C816 326 821 324 819 318 C818 314 820 312 822 308" stroke-width="0.8"/>
<line x1="812.5" y1="332.6" x2="832.6" y2="332.6"/>
<path d="M832.6 334.6 A34 34 0 1 0 832.6 400.4"/>
<circle cx="800.8" cy="349.2" r="2.3" stroke-width="1.2"/>
<circle cx="805.3" cy="345.3" r="2.3" stroke-width="1.2"/>
<circle cx="811.2" cy="342" r="2.3" stroke-width="1.2"/>
<circle cx="817" cy="340" r="2.3" stroke-width="1.2"/>
<line x1="815.4" y1="340" x2="818.6" y2="340" stroke-width="0.9"/>
<line x1="817" y1="338.4" x2="817" y2="341.6" stroke-width="0.9"/>
<circle cx="823.7" cy="339.2" r="2.3" stroke-width="1.2"/>
<line x1="822.1" y1="339.2" x2="825.3" y2="339.2" stroke-width="0.9"/>
<line x1="823.7" y1="337.6" x2="823.7" y2="340.8" stroke-width="0.9"/>
<circle cx="800.3" cy="385.8" r="2.3" stroke-width="1.2"/>
<circle cx="805.8" cy="389.2" r="2.3" stroke-width="1.2"/>
<circle cx="811.2" cy="392.5" r="2.3" stroke-width="1.2"/>
<circle cx="817.5" cy="394.7" r="2.3" stroke-width="1.2"/>
<circle cx="824.2" cy="395.3" r="2.3" stroke-width="1.2"/>
<line x1="822.6" y1="395.3" x2="825.8" y2="395.3" stroke-width="0.9"/>
<line x1="824.2" y1="393.7" x2="824.2" y2="396.9" stroke-width="0.9"/>
<path d="M821.5 401.8 L832.6 401.8 L832.6 409 Z" stroke-width="1"/>
<line x1="825" y1="402" x2="831" y2="407" stroke-width="0.8"/>
<path d="M712.4 350.8 H826 A16.7 16.7 0 0 1 826 384.2 H712.4 Z" fill="#d2d8df"/>
<line x1="721.3" y1="350.8" x2="721.3" y2="384.2"/>
<circle cx="799.3" cy="367.3" r="1.7"/>
<circle cx="823.7" cy="367.2" r="7.3" stroke-width="1.7"/>
<circle cx="823.7" cy="367.2" r="4.5" stroke-width="1.1"/>
<path d="M832.6 332.6 V88.3 L839.4 81.5 H856.1 L881.1 86.5 V435.6 L839.4 440.7 L832.6 435.2 V401.5"/>
<line x1="878.9" y1="87" x2="878.9" y2="435.3" stroke-width="0.9"/>
<rect x="882.8" y="93.3" width="2.2" height="53.5" stroke-width="1" fill="#aab0b6"/>
<path d="M885 99.1 A5.6 5.9 0 0 1 885 110.9" stroke-width="1.5" fill="#dfe3e8"/>
<path d="M885 114 A5.6 5.9 0 0 1 885 125.8" stroke-width="1.5" fill="#dfe3e8"/>
<path d="M885 128.9 A5.6 5.9 0 0 1 885 140.7" stroke-width="1.5" fill="#dfe3e8"/>
<rect x="882.8" y="163.85" width="2.2" height="53.5" stroke-width="1" fill="#aab0b6"/>
<path d="M885 169.65 A5.6 5.9 0 0 1 885 181.45" stroke-width="1.5" fill="#dfe3e8"/>
<path d="M885 184.55 A5.6 5.9 0 0 1 885 196.35" stroke-width="1.5" fill="#dfe3e8"/>
<path d="M885 199.45 A5.6 5.9 0 0 1 885 211.25" stroke-width="1.5" fill="#dfe3e8"/>
<rect x="882.8" y="234.4" width="2.2" height="53.5" stroke-width="1" fill="#aab0b6"/>
<path d="M885 240.2 A5.6 5.9 0 0 1 885 252" stroke-width="1.5" fill="#dfe3e8"/>
<path d="M885 255.1 A5.6 5.9 0 0 1 885 266.9" stroke-width="1.5" fill="#dfe3e8"/>
<path d="M885 270 A5.6 5.9 0 0 1 885 281.8" stroke-width="1.5" fill="#dfe3e8"/>
<rect x="882.8" y="304.95" width="2.2" height="53.5" stroke-width="1" fill="#aab0b6"/>
<path d="M885 310.75 A5.6 5.9 0 0 1 885 322.55" stroke-width="1.5" fill="#dfe3e8"/>
<path d="M885 325.65 A5.6 5.9 0 0 1 885 337.45" stroke-width="1.5" fill="#dfe3e8"/>
<path d="M885 340.55 A5.6 5.9 0 0 1 885 352.35" stroke-width="1.5" fill="#dfe3e8"/>
<rect x="882.8" y="375.5" width="2.2" height="53.5" stroke-width="1" fill="#aab0b6"/>
<path d="M885 381.3 A5.6 5.9 0 0 1 885 393.1" stroke-width="1.5" fill="#dfe3e8"/>
<path d="M885 396.2 A5.6 5.9 0 0 1 885 408" stroke-width="1.5" fill="#dfe3e8"/>
<path d="M885 411.1 A5.6 5.9 0 0 1 885 422.9" stroke-width="1.5" fill="#dfe3e8"/>
<circle cx="843.1" cy="93.1" r="2.4" stroke-width="1.1"/>
<circle cx="843.1" cy="102.8" r="2.4" stroke-width="1.1"/>
<circle cx="845.4" cy="120.9" r="2.4" stroke-width="1.1"/>
<circle cx="840.9" cy="128.7" r="2.4" stroke-width="1.1"/>
<circle cx="843.1" cy="137.6" r="2.4" stroke-width="1.1"/>
<circle cx="843.1" cy="173.3" r="2.4" stroke-width="1.1"/>
<circle cx="840.9" cy="182.2" r="2.4" stroke-width="1.1"/>
<circle cx="845.4" cy="189.6" r="2.4" stroke-width="1.1"/>
<circle cx="843.1" cy="208.5" r="2.4" stroke-width="1.1"/>
<circle cx="843.1" cy="217.8" r="2.4" stroke-width="1.1"/>
<circle cx="843.1" cy="234.4" r="2.4" stroke-width="1.1"/>
<circle cx="843.1" cy="243.7" r="2.4" stroke-width="1.1"/>
<circle cx="845.4" cy="262.6" r="2.4" stroke-width="1.1"/>
<circle cx="840.9" cy="269.4" r="2.4" stroke-width="1.1"/>
<circle cx="843.1" cy="278.7" r="2.4" stroke-width="1.1"/>
<circle cx="843.1" cy="314.8" r="2.4" stroke-width="1.1"/>
<circle cx="840.9" cy="323.7" r="2.4" stroke-width="1.1"/>
<circle cx="845.4" cy="330.9" r="2.4" stroke-width="1.1"/>
<circle cx="843.1" cy="350" r="2.4" stroke-width="1.1"/>
<circle cx="843.1" cy="358.9" r="2.4" stroke-width="1.1"/>
<circle cx="843.1" cy="375.9" r="2.4" stroke-width="1.1"/>
<circle cx="843.1" cy="385.2" r="2.4" stroke-width="1.1"/>
<circle cx="845.4" cy="403.7" r="2.4" stroke-width="1.1"/>
<circle cx="843.1" cy="420" r="2.4" stroke-width="1.1"/>
<circle cx="875.6" cy="147.2" r="2.4" stroke-width="1.1"/>
<circle cx="875.6" cy="163" r="2.4" stroke-width="1.1"/>
<circle cx="875.6" cy="288.9" r="2.4" stroke-width="1.1"/>
<circle cx="875.6" cy="304.6" r="2.4" stroke-width="1.1"/>
<circle cx="875.6" cy="430" r="2.4" stroke-width="1.1"/>
<circle cx="840" cy="150.6" r="2.4" stroke-width="1.4"/>
<line x1="838.2" y1="150.6" x2="841.8" y2="150.6" stroke-width="1"/>
<circle cx="840" cy="159.8" r="2.4" stroke-width="1.4"/>
<line x1="838.2" y1="159.8" x2="841.8" y2="159.8" stroke-width="1"/>
<circle cx="840" cy="292.2" r="2.4" stroke-width="1.4"/>
<line x1="838.2" y1="292.2" x2="841.8" y2="292.2" stroke-width="1"/>
<circle cx="840" cy="300.9" r="2.4" stroke-width="1.4"/>
<line x1="838.2" y1="300.9" x2="841.8" y2="300.9" stroke-width="1"/>
<circle cx="840.7" cy="411.1" r="2.4" stroke-width="1.4"/>
<line x1="838.9" y1="411.1" x2="842.5" y2="411.1" stroke-width="1"/>
<circle cx="839.4" cy="433.3" r="2.4" stroke-width="1.4"/>
<line x1="837.6" y1="433.3" x2="841.2" y2="433.3" stroke-width="1"/>
<rect x="850.6" y="89.8" width="20" height="9.6" stroke-width="1.3" rx="1"/>
<rect x="850.6" y="134.6" width="20" height="10.4" stroke-width="1.3" rx="1"/>
<line x1="850.6" y1="139.8" x2="870.6" y2="139.8" stroke-width="1"/>
<line x1="856" y1="134.6" x2="856" y2="145" stroke-width="1"/>
<rect x="850.6" y="166.3" width="20" height="10" stroke-width="1.3" rx="1"/>
<line x1="850.6" y1="169.3" x2="866" y2="169.3" stroke-width="1"/>
<line x1="864" y1="176.3" x2="870.6" y2="168.3" stroke-width="1"/>
<rect x="850.6" y="211.3" width="20" height="9.4" stroke-width="1.3" rx="1"/>
<line x1="856" y1="220.7" x2="860" y2="211.3" stroke-width="1"/>
<line x1="866" y1="220.7" x2="870.6" y2="214.3" stroke-width="1"/>
<rect x="850.6" y="231.3" width="20" height="9.8" stroke-width="1.3" rx="1"/>
<line x1="856" y1="241.1" x2="860" y2="231.3" stroke-width="1"/>
<line x1="866" y1="241.1" x2="870.6" y2="234.3" stroke-width="1"/>
<rect x="850.6" y="276.9" width="20" height="9.2" stroke-width="1.3" rx="1"/>
<line x1="850.6" y1="279.9" x2="866" y2="279.9" stroke-width="1"/>
<line x1="864" y1="286.1" x2="870.6" y2="278.9" stroke-width="1"/>
<rect x="850.6" y="307.4" width="20" height="9.6" stroke-width="1.3" rx="1"/>
<line x1="850.6" y1="312.2" x2="870.6" y2="312.2" stroke-width="1"/>
<line x1="856" y1="307.4" x2="856" y2="317" stroke-width="1"/>
<rect x="850.6" y="352.8" width="20" height="9.2" stroke-width="1.3" rx="1"/>
<line x1="856" y1="362" x2="860" y2="352.8" stroke-width="1"/>
<line x1="866" y1="362" x2="870.6" y2="355.8" stroke-width="1"/>
<rect x="850.6" y="372.6" width="20" height="9.8" stroke-width="1.3" rx="1"/>
<line x1="856" y1="382.4" x2="860" y2="372.6" stroke-width="1"/>
<line x1="866" y1="382.4" x2="870.6" y2="375.6" stroke-width="1"/>
<rect x="850.6" y="417.6" width="20" height="9.3" stroke-width="1.3" rx="1"/>
<line x1="850.6" y1="420.6" x2="866" y2="420.6" stroke-width="1"/>
<line x1="864" y1="426.9" x2="870.6" y2="419.6" stroke-width="1"/>
<rect x="854.3" y="106.1" width="12" height="7.4" stroke-width="1.2" rx="0.8"/>
<rect x="854.3" y="119.4" width="12" height="7.8" stroke-width="1.2" rx="0.8"/>
<line x1="857" y1="127.2" x2="860" y2="119.4" stroke-width="1"/>
<line x1="861" y1="127.2" x2="864" y2="119.4" stroke-width="1"/>
<rect x="854.3" y="183.7" width="12" height="7.4" stroke-width="1.2" rx="0.8"/>
<line x1="860.3" y1="183.7" x2="860.3" y2="191.1" stroke-width="1"/>
<rect x="854.3" y="197.6" width="12" height="7.2" stroke-width="1.2" rx="0.8"/>
<line x1="857" y1="204.8" x2="860" y2="197.6" stroke-width="1"/>
<line x1="861" y1="204.8" x2="864" y2="197.6" stroke-width="1"/>
<rect x="854.3" y="247" width="12" height="7.8" stroke-width="1.2" rx="0.8"/>
<rect x="854.3" y="261.5" width="12" height="7" stroke-width="1.2" rx="0.8"/>
<line x1="860.3" y1="261.5" x2="860.3" y2="268.5" stroke-width="1"/>
<rect x="854.3" y="325" width="12" height="7.4" stroke-width="1.2" rx="0.8"/>
<line x1="857" y1="332.4" x2="860" y2="325" stroke-width="1"/>
<line x1="861" y1="332.4" x2="864" y2="325" stroke-width="1"/>
<rect x="854.3" y="338.5" width="12" height="7.8" stroke-width="1.2" rx="0.8"/>
<rect x="854.3" y="388.9" width="12" height="7" stroke-width="1.2" rx="0.8"/>
<rect x="854.3" y="402.8" width="12" height="7.4" stroke-width="1.2" rx="0.8"/>
<line x1="857" y1="410.2" x2="860" y2="402.8" stroke-width="1"/>
<line x1="861" y1="410.2" x2="864" y2="402.8" stroke-width="1"/>
<circle cx="858.9" cy="225.7" r="2.2" stroke-width="1.1"/>
<circle cx="858.9" cy="367.6" r="2.2" stroke-width="1.1"/>
</g>
<g stroke="#0b0d12" stroke-width="1.1" fill="none">
<path d="M1110.6 106.1 L1141 89 Q1147 84.8 1153.3 86.3 L1305 172.5 Q1311.7 176.5 1311.7 182 V204.2"/>
<line x1="1143.7" y1="88.5" x2="1143.7" y2="111.3"/>
<line x1="1154.2" y1="87.5" x2="1154.2" y2="112.2"/>
<line x1="1131.7" y1="118" x2="1143.7" y2="111.3"/>
<path d="M1143.7 111.3 Q1148.5 114.5 1154.2 112.2"/>
<line x1="1154.2" y1="112.2" x2="1295.3" y2="193.5"/>
<line x1="1309.2" y1="180.5" x2="1309.2" y2="205.5" stroke-width="1"/>
<path d="M1181.5 116.2 L1196 124.8" stroke-width="6" stroke-linecap="round"/>
<path d="M1181.5 116.2 L1196 124.8" stroke-width="3.6" stroke-linecap="round" stroke="#d2d8df"/>
<path d="M1267.3 166.5 L1282.3 175.3" stroke-width="6" stroke-linecap="round"/>
<path d="M1267.3 166.5 L1282.3 175.3" stroke-width="3.6" stroke-linecap="round" stroke="#d2d8df"/>
<ellipse cx="1232" cy="145.5" rx="2.6" ry="3.3" stroke-width="1.2" transform="rotate(-25 1232 145.5)"/>
<path d="M1051.7 104 L1076.7 86.1 Q1081.7 84.5 1081.7 90 V110" fill="#d2d8df"/>
<line x1="1053.5" y1="105.5" x2="1077" y2="88.8" stroke-width="0.9"/>
<circle cx="1077.8" cy="92.8" r="1.7"/>
<circle cx="1075.6" cy="103.3" r="1.7"/>
<polygon points="1060.6,107.2 1070.6,101.7 1070.6,104.9 1060.6,110.4"/>
<path d="M1073 113.5 L1092.5 102 Q1097 99.3 1101.5 101.7 L1221 170 L1221 173.5 L1197.4 187 Z" fill="#d2d8df"/>
<line x1="1073" y1="116.8" x2="1197.4" y2="190.3"/>
<path d="M1086.1 115 L1098.6 107.8" stroke-width="2.9" stroke-linecap="round"/>
<path d="M1091.3 118 L1103.8 110.8" stroke-width="2.9" stroke-linecap="round"/>
<path d="M1096.5 121 L1109 113.8" stroke-width="2.9" stroke-linecap="round"/>
<path d="M1101.7 124 L1114.2 116.8" stroke-width="2.9" stroke-linecap="round"/>
<path d="M1106.9 127 L1119.4 119.8" stroke-width="2.9" stroke-linecap="round"/>
<path d="M1112.1 130 L1124.6 122.8" stroke-width="2.9" stroke-linecap="round"/>
<path d="M1117.3 133 L1129.8 125.8" stroke-width="2.9" stroke-linecap="round"/>
<path d="M1122.5 136 L1135 128.8" stroke-width="2.9" stroke-linecap="round"/>
<path d="M1127.7 139 L1140.2 131.8" stroke-width="2.9" stroke-linecap="round"/>
<path d="M1132.9 142 L1145.4 134.8" stroke-width="2.9" stroke-linecap="round"/>
<path d="M1138.1 145 L1150.6 137.8" stroke-width="2.9" stroke-linecap="round"/>
<path d="M1143.3 148 L1155.8 140.8" stroke-width="2.9" stroke-linecap="round"/>
<path d="M1148.5 151 L1161 143.8" stroke-width="2.9" stroke-linecap="round"/>
<path d="M1153.7 154 L1166.2 146.8" stroke-width="2.9" stroke-linecap="round"/>
<path d="M1158.9 157 L1171.4 149.8" stroke-width="2.9" stroke-linecap="round"/>
<path d="M1164.1 160 L1176.6 152.8" stroke-width="2.9" stroke-linecap="round"/>
<path d="M1169.3 163 L1181.8 155.8" stroke-width="2.9" stroke-linecap="round"/>
<path d="M1174.5 166 L1187 158.8" stroke-width="2.9" stroke-linecap="round"/>
<path d="M1179.7 169 L1192.2 161.8" stroke-width="2.9" stroke-linecap="round"/>
<path d="M1184.9 172 L1197.4 164.8" stroke-width="2.9" stroke-linecap="round"/>
<path d="M1190.1 175 L1202.6 167.8" stroke-width="2.9" stroke-linecap="round"/>
<path d="M1195.3 178 L1207.8 170.8" stroke-width="2.9" stroke-linecap="round"/>
<path d="M1200.5 181 L1213 173.8" stroke-width="2.9" stroke-linecap="round"/>
<polygon points="1205.7,183.5 1216.9,176.1 1228.9,183 1215.5,193.5" fill="#d2d8df"/>
<path d="M1051.5 103 V358.5 L1058.9 362.5 V104 Z" fill="#d2d8df"/>
<line x1="1056.7" y1="104" x2="1056.7" y2="361.3"/>
<rect x="1058.9" y="108" width="5.1" height="256"/>
<path d="M1205.4 196 V449 L1212 452.6 V196 Z" fill="#d2d8df"/>
<line x1="1209.5" y1="196" x2="1209.5" y2="451"/>
<g transform="matrix(0.5615,0.327,0.0,0.7338,869.5,-68.73)">
<rect x="344.8" y="95" width="245.7" height="61.4" fill="#d2d8df" vector-effect="non-scaling-stroke"/>
<line x1="346" y1="95.1" x2="589.5" y2="95.1" stroke-width="1.5" vector-effect="non-scaling-stroke"/>
<rect x="350.5" y="101.2" width="232.9" height="51" vector-effect="non-scaling-stroke"/>
<line x1="351" y1="101.5" x2="583" y2="101.5" stroke-width="2" vector-effect="non-scaling-stroke"/>
<ellipse cx="366.3" cy="111.4" rx="6.7" ry="6.1" stroke-width="1.4" vector-effect="non-scaling-stroke"/>
<ellipse cx="366.3" cy="126.4" rx="6.7" ry="6.1" stroke-width="1.4" vector-effect="non-scaling-stroke"/>
<ellipse cx="366.3" cy="141.4" rx="6.7" ry="6.1" stroke-width="1.4" vector-effect="non-scaling-stroke"/>
<ellipse cx="388.78" cy="111.4" rx="6.7" ry="6.1" stroke-width="1.4" vector-effect="non-scaling-stroke"/>
<ellipse cx="388.78" cy="126.4" rx="6.7" ry="6.1" stroke-width="1.4" vector-effect="non-scaling-stroke"/>
<ellipse cx="388.78" cy="141.4" rx="6.7" ry="6.1" stroke-width="1.4" vector-effect="non-scaling-stroke"/>
<ellipse cx="411.26" cy="111.4" rx="6.7" ry="6.1" stroke-width="1.4" vector-effect="non-scaling-stroke"/>
<ellipse cx="411.26" cy="126.4" rx="6.7" ry="6.1" stroke-width="1.4" vector-effect="non-scaling-stroke"/>
<ellipse cx="411.26" cy="141.4" rx="6.7" ry="6.1" stroke-width="1.4" vector-effect="non-scaling-stroke"/>
<ellipse cx="433.74" cy="111.4" rx="6.7" ry="6.1" stroke-width="1.4" vector-effect="non-scaling-stroke"/>
<ellipse cx="433.74" cy="126.4" rx="6.7" ry="6.1" stroke-width="1.4" vector-effect="non-scaling-stroke"/>
<ellipse cx="433.74" cy="141.4" rx="6.7" ry="6.1" stroke-width="1.4" vector-effect="non-scaling-stroke"/>
<ellipse cx="456.22" cy="111.4" rx="6.7" ry="6.1" stroke-width="1.4" vector-effect="non-scaling-stroke"/>
<ellipse cx="456.22" cy="126.4" rx="6.7" ry="6.1" stroke-width="1.4" vector-effect="non-scaling-stroke"/>
<ellipse cx="456.22" cy="141.4" rx="6.7" ry="6.1" stroke-width="1.4" vector-effect="non-scaling-stroke"/>
<ellipse cx="478.7" cy="111.4" rx="6.7" ry="6.1" stroke-width="1.4" vector-effect="non-scaling-stroke"/>
<ellipse cx="478.7" cy="126.4" rx="6.7" ry="6.1" stroke-width="1.4" vector-effect="non-scaling-stroke"/>
<ellipse cx="478.7" cy="141.4" rx="6.7" ry="6.1" stroke-width="1.4" vector-effect="non-scaling-stroke"/>
<ellipse cx="501.18" cy="111.4" rx="6.7" ry="6.1" stroke-width="1.4" vector-effect="non-scaling-stroke"/>
<ellipse cx="501.18" cy="126.4" rx="6.7" ry="6.1" stroke-width="1.4" vector-effect="non-scaling-stroke"/>
<ellipse cx="501.18" cy="141.4" rx="6.7" ry="6.1" stroke-width="1.4" vector-effect="non-scaling-stroke"/>
<ellipse cx="523.66" cy="111.4" rx="6.7" ry="6.1" stroke-width="1.4" vector-effect="non-scaling-stroke"/>
<ellipse cx="523.66" cy="126.4" rx="6.7" ry="6.1" stroke-width="1.4" vector-effect="non-scaling-stroke"/>
<ellipse cx="523.66" cy="141.4" rx="6.7" ry="6.1" stroke-width="1.4" vector-effect="non-scaling-stroke"/>
<ellipse cx="546.14" cy="111.4" rx="6.7" ry="6.1" stroke-width="1.4" vector-effect="non-scaling-stroke"/>
<ellipse cx="546.14" cy="126.4" rx="6.7" ry="6.1" stroke-width="1.4" vector-effect="non-scaling-stroke"/>
<ellipse cx="546.14" cy="141.4" rx="6.7" ry="6.1" stroke-width="1.4" vector-effect="non-scaling-stroke"/>
<ellipse cx="568.62" cy="111.4" rx="6.7" ry="6.1" stroke-width="1.4" vector-effect="non-scaling-stroke"/>
<ellipse cx="568.62" cy="126.4" rx="6.7" ry="6.1" stroke-width="1.4" vector-effect="non-scaling-stroke"/>
<ellipse cx="568.62" cy="141.4" rx="6.7" ry="6.1" stroke-width="1.4" vector-effect="non-scaling-stroke"/>
<rect x="344.8" y="163.2" width="245.7" height="63.2" fill="#d2d8df" vector-effect="non-scaling-stroke"/>
<line x1="346" y1="163.3" x2="589.5" y2="163.3" stroke-width="1.5" vector-effect="non-scaling-stroke"/>
<rect x="350.5" y="171.2" width="232.9" height="51" vector-effect="non-scaling-stroke"/>
<line x1="351" y1="171.5" x2="583" y2="171.5" stroke-width="2" vector-effect="non-scaling-stroke"/>
<ellipse cx="366.3" cy="181.4" rx="6.7" ry="6.1" stroke-width="1.4" vector-effect="non-scaling-stroke"/>
<ellipse cx="366.3" cy="196.4" rx="6.7" ry="6.1" stroke-width="1.4" vector-effect="non-scaling-stroke"/>
<ellipse cx="366.3" cy="211.4" rx="6.7" ry="6.1" stroke-width="1.4" vector-effect="non-scaling-stroke"/>
<ellipse cx="388.78" cy="181.4" rx="6.7" ry="6.1" stroke-width="1.4" vector-effect="non-scaling-stroke"/>
<ellipse cx="388.78" cy="196.4" rx="6.7" ry="6.1" stroke-width="1.4" vector-effect="non-scaling-stroke"/>
<ellipse cx="388.78" cy="211.4" rx="6.7" ry="6.1" stroke-width="1.4" vector-effect="non-scaling-stroke"/>
<ellipse cx="411.26" cy="181.4" rx="6.7" ry="6.1" stroke-width="1.4" vector-effect="non-scaling-stroke"/>
<ellipse cx="411.26" cy="196.4" rx="6.7" ry="6.1" stroke-width="1.4" vector-effect="non-scaling-stroke"/>
<ellipse cx="411.26" cy="211.4" rx="6.7" ry="6.1" stroke-width="1.4" vector-effect="non-scaling-stroke"/>
<ellipse cx="433.74" cy="181.4" rx="6.7" ry="6.1" stroke-width="1.4" vector-effect="non-scaling-stroke"/>
<ellipse cx="433.74" cy="196.4" rx="6.7" ry="6.1" stroke-width="1.4" vector-effect="non-scaling-stroke"/>
<ellipse cx="433.74" cy="211.4" rx="6.7" ry="6.1" stroke-width="1.4" vector-effect="non-scaling-stroke"/>
<ellipse cx="456.22" cy="181.4" rx="6.7" ry="6.1" stroke-width="1.4" vector-effect="non-scaling-stroke"/>
<ellipse cx="456.22" cy="196.4" rx="6.7" ry="6.1" stroke-width="1.4" vector-effect="non-scaling-stroke"/>
<ellipse cx="456.22" cy="211.4" rx="6.7" ry="6.1" stroke-width="1.4" vector-effect="non-scaling-stroke"/>
<ellipse cx="478.7" cy="181.4" rx="6.7" ry="6.1" stroke-width="1.4" vector-effect="non-scaling-stroke"/>
<ellipse cx="478.7" cy="196.4" rx="6.7" ry="6.1" stroke-width="1.4" vector-effect="non-scaling-stroke"/>
<ellipse cx="478.7" cy="211.4" rx="6.7" ry="6.1" stroke-width="1.4" vector-effect="non-scaling-stroke"/>
<ellipse cx="501.18" cy="181.4" rx="6.7" ry="6.1" stroke-width="1.4" vector-effect="non-scaling-stroke"/>
<ellipse cx="501.18" cy="196.4" rx="6.7" ry="6.1" stroke-width="1.4" vector-effect="non-scaling-stroke"/>
<ellipse cx="501.18" cy="211.4" rx="6.7" ry="6.1" stroke-width="1.4" vector-effect="non-scaling-stroke"/>
<ellipse cx="523.66" cy="181.4" rx="6.7" ry="6.1" stroke-width="1.4" vector-effect="non-scaling-stroke"/>
<ellipse cx="523.66" cy="196.4" rx="6.7" ry="6.1" stroke-width="1.4" vector-effect="non-scaling-stroke"/>
<ellipse cx="523.66" cy="211.4" rx="6.7" ry="6.1" stroke-width="1.4" vector-effect="non-scaling-stroke"/>
<ellipse cx="546.14" cy="181.4" rx="6.7" ry="6.1" stroke-width="1.4" vector-effect="non-scaling-stroke"/>
<ellipse cx="546.14" cy="196.4" rx="6.7" ry="6.1" stroke-width="1.4" vector-effect="non-scaling-stroke"/>
<ellipse cx="546.14" cy="211.4" rx="6.7" ry="6.1" stroke-width="1.4" vector-effect="non-scaling-stroke"/>
<ellipse cx="568.62" cy="181.4" rx="6.7" ry="6.1" stroke-width="1.4" vector-effect="non-scaling-stroke"/>
<ellipse cx="568.62" cy="196.4" rx="6.7" ry="6.1" stroke-width="1.4" vector-effect="non-scaling-stroke"/>
<ellipse cx="568.62" cy="211.4" rx="6.7" ry="6.1" stroke-width="1.4" vector-effect="non-scaling-stroke"/>
<rect x="344.8" y="233.2" width="245.7" height="63.2" fill="#d2d8df" vector-effect="non-scaling-stroke"/>
<line x1="346" y1="233.3" x2="589.5" y2="233.3" stroke-width="1.5" vector-effect="non-scaling-stroke"/>
<rect x="350.5" y="241.2" width="232.9" height="51" vector-effect="non-scaling-stroke"/>
<line x1="351" y1="241.5" x2="583" y2="241.5" stroke-width="2" vector-effect="non-scaling-stroke"/>
<ellipse cx="366.3" cy="251.4" rx="6.7" ry="6.1" stroke-width="1.4" vector-effect="non-scaling-stroke"/>
<ellipse cx="366.3" cy="266.4" rx="6.7" ry="6.1" stroke-width="1.4" vector-effect="non-scaling-stroke"/>
<ellipse cx="366.3" cy="281.4" rx="6.7" ry="6.1" stroke-width="1.4" vector-effect="non-scaling-stroke"/>
<ellipse cx="388.78" cy="251.4" rx="6.7" ry="6.1" stroke-width="1.4" vector-effect="non-scaling-stroke"/>
<ellipse cx="388.78" cy="266.4" rx="6.7" ry="6.1" stroke-width="1.4" vector-effect="non-scaling-stroke"/>
<ellipse cx="388.78" cy="281.4" rx="6.7" ry="6.1" stroke-width="1.4" vector-effect="non-scaling-stroke"/>
<ellipse cx="411.26" cy="251.4" rx="6.7" ry="6.1" stroke-width="1.4" vector-effect="non-scaling-stroke"/>
<ellipse cx="411.26" cy="266.4" rx="6.7" ry="6.1" stroke-width="1.4" vector-effect="non-scaling-stroke"/>
<ellipse cx="411.26" cy="281.4" rx="6.7" ry="6.1" stroke-width="1.4" vector-effect="non-scaling-stroke"/>
<ellipse cx="433.74" cy="251.4" rx="6.7" ry="6.1" stroke-width="1.4" vector-effect="non-scaling-stroke"/>
<ellipse cx="433.74" cy="266.4" rx="6.7" ry="6.1" stroke-width="1.4" vector-effect="non-scaling-stroke"/>
<ellipse cx="433.74" cy="281.4" rx="6.7" ry="6.1" stroke-width="1.4" vector-effect="non-scaling-stroke"/>
<ellipse cx="456.22" cy="251.4" rx="6.7" ry="6.1" stroke-width="1.4" vector-effect="non-scaling-stroke"/>
<ellipse cx="456.22" cy="266.4" rx="6.7" ry="6.1" stroke-width="1.4" vector-effect="non-scaling-stroke"/>
<ellipse cx="456.22" cy="281.4" rx="6.7" ry="6.1" stroke-width="1.4" vector-effect="non-scaling-stroke"/>
<ellipse cx="478.7" cy="251.4" rx="6.7" ry="6.1" stroke-width="1.4" vector-effect="non-scaling-stroke"/>
<ellipse cx="478.7" cy="266.4" rx="6.7" ry="6.1" stroke-width="1.4" vector-effect="non-scaling-stroke"/>
<ellipse cx="478.7" cy="281.4" rx="6.7" ry="6.1" stroke-width="1.4" vector-effect="non-scaling-stroke"/>
<ellipse cx="501.18" cy="251.4" rx="6.7" ry="6.1" stroke-width="1.4" vector-effect="non-scaling-stroke"/>
<ellipse cx="501.18" cy="266.4" rx="6.7" ry="6.1" stroke-width="1.4" vector-effect="non-scaling-stroke"/>
<ellipse cx="501.18" cy="281.4" rx="6.7" ry="6.1" stroke-width="1.4" vector-effect="non-scaling-stroke"/>
<ellipse cx="523.66" cy="251.4" rx="6.7" ry="6.1" stroke-width="1.4" vector-effect="non-scaling-stroke"/>
<ellipse cx="523.66" cy="266.4" rx="6.7" ry="6.1" stroke-width="1.4" vector-effect="non-scaling-stroke"/>
<ellipse cx="523.66" cy="281.4" rx="6.7" ry="6.1" stroke-width="1.4" vector-effect="non-scaling-stroke"/>
<ellipse cx="546.14" cy="251.4" rx="6.7" ry="6.1" stroke-width="1.4" vector-effect="non-scaling-stroke"/>
<ellipse cx="546.14" cy="266.4" rx="6.7" ry="6.1" stroke-width="1.4" vector-effect="non-scaling-stroke"/>
<ellipse cx="546.14" cy="281.4" rx="6.7" ry="6.1" stroke-width="1.4" vector-effect="non-scaling-stroke"/>
<ellipse cx="568.62" cy="251.4" rx="6.7" ry="6.1" stroke-width="1.4" vector-effect="non-scaling-stroke"/>
<ellipse cx="568.62" cy="266.4" rx="6.7" ry="6.1" stroke-width="1.4" vector-effect="non-scaling-stroke"/>
<ellipse cx="568.62" cy="281.4" rx="6.7" ry="6.1" stroke-width="1.4" vector-effect="non-scaling-stroke"/>
<rect x="344.8" y="303.2" width="245.7" height="63.2" fill="#d2d8df" vector-effect="non-scaling-stroke"/>
<line x1="346" y1="303.3" x2="589.5" y2="303.3" stroke-width="1.5" vector-effect="non-scaling-stroke"/>
<rect x="350.5" y="311.2" width="232.9" height="51" vector-effect="non-scaling-stroke"/>
<line x1="351" y1="311.5" x2="583" y2="311.5" stroke-width="2" vector-effect="non-scaling-stroke"/>
<ellipse cx="366.3" cy="321.4" rx="6.7" ry="6.1" stroke-width="1.4" vector-effect="non-scaling-stroke"/>
<ellipse cx="366.3" cy="336.4" rx="6.7" ry="6.1" stroke-width="1.4" vector-effect="non-scaling-stroke"/>
<ellipse cx="366.3" cy="351.4" rx="6.7" ry="6.1" stroke-width="1.4" vector-effect="non-scaling-stroke"/>
<ellipse cx="388.78" cy="321.4" rx="6.7" ry="6.1" stroke-width="1.4" vector-effect="non-scaling-stroke"/>
<ellipse cx="388.78" cy="336.4" rx="6.7" ry="6.1" stroke-width="1.4" vector-effect="non-scaling-stroke"/>
<ellipse cx="388.78" cy="351.4" rx="6.7" ry="6.1" stroke-width="1.4" vector-effect="non-scaling-stroke"/>
<ellipse cx="411.26" cy="321.4" rx="6.7" ry="6.1" stroke-width="1.4" vector-effect="non-scaling-stroke"/>
<ellipse cx="411.26" cy="336.4" rx="6.7" ry="6.1" stroke-width="1.4" vector-effect="non-scaling-stroke"/>
<ellipse cx="411.26" cy="351.4" rx="6.7" ry="6.1" stroke-width="1.4" vector-effect="non-scaling-stroke"/>
<ellipse cx="433.74" cy="321.4" rx="6.7" ry="6.1" stroke-width="1.4" vector-effect="non-scaling-stroke"/>
<ellipse cx="433.74" cy="336.4" rx="6.7" ry="6.1" stroke-width="1.4" vector-effect="non-scaling-stroke"/>
<ellipse cx="433.74" cy="351.4" rx="6.7" ry="6.1" stroke-width="1.4" vector-effect="non-scaling-stroke"/>
<ellipse cx="456.22" cy="321.4" rx="6.7" ry="6.1" stroke-width="1.4" vector-effect="non-scaling-stroke"/>
<ellipse cx="456.22" cy="336.4" rx="6.7" ry="6.1" stroke-width="1.4" vector-effect="non-scaling-stroke"/>
<ellipse cx="456.22" cy="351.4" rx="6.7" ry="6.1" stroke-width="1.4" vector-effect="non-scaling-stroke"/>
<ellipse cx="478.7" cy="321.4" rx="6.7" ry="6.1" stroke-width="1.4" vector-effect="non-scaling-stroke"/>
<ellipse cx="478.7" cy="336.4" rx="6.7" ry="6.1" stroke-width="1.4" vector-effect="non-scaling-stroke"/>
<ellipse cx="478.7" cy="351.4" rx="6.7" ry="6.1" stroke-width="1.4" vector-effect="non-scaling-stroke"/>
<ellipse cx="501.18" cy="321.4" rx="6.7" ry="6.1" stroke-width="1.4" vector-effect="non-scaling-stroke"/>
<ellipse cx="501.18" cy="336.4" rx="6.7" ry="6.1" stroke-width="1.4" vector-effect="non-scaling-stroke"/>
<ellipse cx="501.18" cy="351.4" rx="6.7" ry="6.1" stroke-width="1.4" vector-effect="non-scaling-stroke"/>
<ellipse cx="523.66" cy="321.4" rx="6.7" ry="6.1" stroke-width="1.4" vector-effect="non-scaling-stroke"/>
<ellipse cx="523.66" cy="336.4" rx="6.7" ry="6.1" stroke-width="1.4" vector-effect="non-scaling-stroke"/>
<ellipse cx="523.66" cy="351.4" rx="6.7" ry="6.1" stroke-width="1.4" vector-effect="non-scaling-stroke"/>
<ellipse cx="546.14" cy="321.4" rx="6.7" ry="6.1" stroke-width="1.4" vector-effect="non-scaling-stroke"/>
<ellipse cx="546.14" cy="336.4" rx="6.7" ry="6.1" stroke-width="1.4" vector-effect="non-scaling-stroke"/>
<ellipse cx="546.14" cy="351.4" rx="6.7" ry="6.1" stroke-width="1.4" vector-effect="non-scaling-stroke"/>
<ellipse cx="568.62" cy="321.4" rx="6.7" ry="6.1" stroke-width="1.4" vector-effect="non-scaling-stroke"/>
<ellipse cx="568.62" cy="336.4" rx="6.7" ry="6.1" stroke-width="1.4" vector-effect="non-scaling-stroke"/>
<ellipse cx="568.62" cy="351.4" rx="6.7" ry="6.1" stroke-width="1.4" vector-effect="non-scaling-stroke"/>
<rect x="344.8" y="373.2" width="245.7" height="63.2" fill="#d2d8df" vector-effect="non-scaling-stroke"/>
<line x1="346" y1="373.3" x2="589.5" y2="373.3" stroke-width="1.5" vector-effect="non-scaling-stroke"/>
<rect x="350.5" y="381.2" width="232.9" height="51" vector-effect="non-scaling-stroke"/>
<line x1="351" y1="381.5" x2="583" y2="381.5" stroke-width="2" vector-effect="non-scaling-stroke"/>
<ellipse cx="366.3" cy="391.4" rx="6.7" ry="6.1" stroke-width="1.4" vector-effect="non-scaling-stroke"/>
<ellipse cx="366.3" cy="406.4" rx="6.7" ry="6.1" stroke-width="1.4" vector-effect="non-scaling-stroke"/>
<ellipse cx="366.3" cy="421.4" rx="6.7" ry="6.1" stroke-width="1.4" vector-effect="non-scaling-stroke"/>
<ellipse cx="388.78" cy="391.4" rx="6.7" ry="6.1" stroke-width="1.4" vector-effect="non-scaling-stroke"/>
<ellipse cx="388.78" cy="406.4" rx="6.7" ry="6.1" stroke-width="1.4" vector-effect="non-scaling-stroke"/>
<ellipse cx="388.78" cy="421.4" rx="6.7" ry="6.1" stroke-width="1.4" vector-effect="non-scaling-stroke"/>
<ellipse cx="411.26" cy="391.4" rx="6.7" ry="6.1" stroke-width="1.4" vector-effect="non-scaling-stroke"/>
<ellipse cx="411.26" cy="406.4" rx="6.7" ry="6.1" stroke-width="1.4" vector-effect="non-scaling-stroke"/>
<ellipse cx="411.26" cy="421.4" rx="6.7" ry="6.1" stroke-width="1.4" vector-effect="non-scaling-stroke"/>
<ellipse cx="433.74" cy="391.4" rx="6.7" ry="6.1" stroke-width="1.4" vector-effect="non-scaling-stroke"/>
<ellipse cx="433.74" cy="406.4" rx="6.7" ry="6.1" stroke-width="1.4" vector-effect="non-scaling-stroke"/>
<ellipse cx="433.74" cy="421.4" rx="6.7" ry="6.1" stroke-width="1.4" vector-effect="non-scaling-stroke"/>
<ellipse cx="456.22" cy="391.4" rx="6.7" ry="6.1" stroke-width="1.4" vector-effect="non-scaling-stroke"/>
<ellipse cx="456.22" cy="406.4" rx="6.7" ry="6.1" stroke-width="1.4" vector-effect="non-scaling-stroke"/>
<ellipse cx="456.22" cy="421.4" rx="6.7" ry="6.1" stroke-width="1.4" vector-effect="non-scaling-stroke"/>
<ellipse cx="478.7" cy="391.4" rx="6.7" ry="6.1" stroke-width="1.4" vector-effect="non-scaling-stroke"/>
<ellipse cx="478.7" cy="406.4" rx="6.7" ry="6.1" stroke-width="1.4" vector-effect="non-scaling-stroke"/>
<ellipse cx="478.7" cy="421.4" rx="6.7" ry="6.1" stroke-width="1.4" vector-effect="non-scaling-stroke"/>
<ellipse cx="501.18" cy="391.4" rx="6.7" ry="6.1" stroke-width="1.4" vector-effect="non-scaling-stroke"/>
<ellipse cx="501.18" cy="406.4" rx="6.7" ry="6.1" stroke-width="1.4" vector-effect="non-scaling-stroke"/>
<ellipse cx="501.18" cy="421.4" rx="6.7" ry="6.1" stroke-width="1.4" vector-effect="non-scaling-stroke"/>
<ellipse cx="523.66" cy="391.4" rx="6.7" ry="6.1" stroke-width="1.4" vector-effect="non-scaling-stroke"/>
<ellipse cx="523.66" cy="406.4" rx="6.7" ry="6.1" stroke-width="1.4" vector-effect="non-scaling-stroke"/>
<ellipse cx="523.66" cy="421.4" rx="6.7" ry="6.1" stroke-width="1.4" vector-effect="non-scaling-stroke"/>
<ellipse cx="546.14" cy="391.4" rx="6.7" ry="6.1" stroke-width="1.4" vector-effect="non-scaling-stroke"/>
<ellipse cx="546.14" cy="406.4" rx="6.7" ry="6.1" stroke-width="1.4" vector-effect="non-scaling-stroke"/>
<ellipse cx="546.14" cy="421.4" rx="6.7" ry="6.1" stroke-width="1.4" vector-effect="non-scaling-stroke"/>
<ellipse cx="568.62" cy="391.4" rx="6.7" ry="6.1" stroke-width="1.4" vector-effect="non-scaling-stroke"/>
<ellipse cx="568.62" cy="406.4" rx="6.7" ry="6.1" stroke-width="1.4" vector-effect="non-scaling-stroke"/>
<ellipse cx="568.62" cy="421.4" rx="6.7" ry="6.1" stroke-width="1.4" vector-effect="non-scaling-stroke"/>
</g>
<ellipse cx="1054.4" cy="111.86" rx="1.9" ry="2.2" stroke-width="1.2"/>
<ellipse cx="1208.5" cy="201.59" rx="1.9" ry="2.2" stroke-width="1.2"/>
<ellipse cx="1054.4" cy="120.59" rx="2.3" ry="2.7" stroke-width="2"/>
<ellipse cx="1208.5" cy="210.32" rx="2.3" ry="2.7" stroke-width="2"/>
<ellipse cx="1054.4" cy="141.21" rx="2.3" ry="2.7" stroke-width="2"/>
<ellipse cx="1208.5" cy="230.94" rx="2.3" ry="2.7" stroke-width="2"/>
<ellipse cx="1054.4" cy="150.31" rx="1.9" ry="2.2" stroke-width="1.2"/>
<ellipse cx="1208.5" cy="240.04" rx="1.9" ry="2.2" stroke-width="1.2"/>
<ellipse cx="1054.4" cy="163.22" rx="1.9" ry="2.2" stroke-width="1.2"/>
<ellipse cx="1208.5" cy="252.95" rx="1.9" ry="2.2" stroke-width="1.2"/>
<ellipse cx="1054.4" cy="171.96" rx="2.3" ry="2.7" stroke-width="2"/>
<ellipse cx="1208.5" cy="261.68" rx="2.3" ry="2.7" stroke-width="2"/>
<ellipse cx="1054.4" cy="192.58" rx="2.3" ry="2.7" stroke-width="2"/>
<ellipse cx="1208.5" cy="282.3" rx="2.3" ry="2.7" stroke-width="2"/>
<ellipse cx="1054.4" cy="201.67" rx="1.9" ry="2.2" stroke-width="1.2"/>
<ellipse cx="1208.5" cy="291.4" rx="1.9" ry="2.2" stroke-width="1.2"/>
<ellipse cx="1054.4" cy="214.59" rx="1.9" ry="2.2" stroke-width="1.2"/>
<ellipse cx="1208.5" cy="304.32" rx="1.9" ry="2.2" stroke-width="1.2"/>
<ellipse cx="1054.4" cy="223.32" rx="2.3" ry="2.7" stroke-width="2"/>
<ellipse cx="1208.5" cy="313.05" rx="2.3" ry="2.7" stroke-width="2"/>
<ellipse cx="1054.4" cy="243.94" rx="2.3" ry="2.7" stroke-width="2"/>
<ellipse cx="1208.5" cy="333.67" rx="2.3" ry="2.7" stroke-width="2"/>
<ellipse cx="1054.4" cy="253.04" rx="1.9" ry="2.2" stroke-width="1.2"/>
<ellipse cx="1208.5" cy="342.77" rx="1.9" ry="2.2" stroke-width="1.2"/>
<ellipse cx="1054.4" cy="265.96" rx="1.9" ry="2.2" stroke-width="1.2"/>
<ellipse cx="1208.5" cy="355.68" rx="1.9" ry="2.2" stroke-width="1.2"/>
<ellipse cx="1054.4" cy="274.69" rx="2.3" ry="2.7" stroke-width="2"/>
<ellipse cx="1208.5" cy="364.42" rx="2.3" ry="2.7" stroke-width="2"/>
<ellipse cx="1054.4" cy="295.31" rx="2.3" ry="2.7" stroke-width="2"/>
<ellipse cx="1208.5" cy="385.04" rx="2.3" ry="2.7" stroke-width="2"/>
<ellipse cx="1054.4" cy="304.41" rx="1.9" ry="2.2" stroke-width="1.2"/>
<ellipse cx="1208.5" cy="394.14" rx="1.9" ry="2.2" stroke-width="1.2"/>
<ellipse cx="1054.4" cy="317.32" rx="1.9" ry="2.2" stroke-width="1.2"/>
<ellipse cx="1208.5" cy="407.05" rx="1.9" ry="2.2" stroke-width="1.2"/>
<ellipse cx="1054.4" cy="326.05" rx="2.3" ry="2.7" stroke-width="2"/>
<ellipse cx="1208.5" cy="415.78" rx="2.3" ry="2.7" stroke-width="2"/>
<ellipse cx="1054.4" cy="346.67" rx="2.3" ry="2.7" stroke-width="2"/>
<ellipse cx="1208.5" cy="436.4" rx="2.3" ry="2.7" stroke-width="2"/>
<ellipse cx="1054.4" cy="355.77" rx="1.9" ry="2.2" stroke-width="1.2"/>
<ellipse cx="1208.5" cy="445.5" rx="1.9" ry="2.2" stroke-width="1.2"/>
<g transform="matrix(-0.63,0.335,0.0,0.74,1768.0,-164.4)">
<circle cx="821.3" cy="160.4" r="31" fill="#d2d8df" vector-effect="non-scaling-stroke"/>
<circle cx="811.75" cy="184.04" r="2.3" stroke-width="1.1" vector-effect="non-scaling-stroke"/>
<circle cx="807.04" cy="181.54" r="2.3" stroke-width="1.1" vector-effect="non-scaling-stroke"/>
<circle cx="802.96" cy="178.11" r="2.3" stroke-width="1.1" vector-effect="non-scaling-stroke"/>
<circle cx="799.67" cy="173.91" r="2.3" stroke-width="1.1" vector-effect="non-scaling-stroke"/>
<circle cx="797.34" cy="169.12" r="2.3" stroke-width="1.1" vector-effect="non-scaling-stroke"/>
<circle cx="796.79" cy="153.37" r="2.3" stroke-width="1.1" vector-effect="non-scaling-stroke"/>
<circle cx="798.78" cy="148.43" r="2.3" stroke-width="1.1" vector-effect="non-scaling-stroke"/>
<circle cx="801.77" cy="144.01" r="2.3" stroke-width="1.1" vector-effect="non-scaling-stroke"/>
<circle cx="805.6" cy="140.31" r="2.3" stroke-width="1.1" vector-effect="non-scaling-stroke"/>
<circle cx="810.12" cy="137.48" r="2.3" stroke-width="1.1" vector-effect="non-scaling-stroke"/>
<path d="M881.1 86.5 L856.1 81.5 H839.4 L832.6 88.3 V435.2 L839.4 440.7 L881.1 435.6 Z" fill="#d2d8df" vector-effect="non-scaling-stroke"/>
<rect x="850.6" y="99" width="20" height="10" stroke-width="1.7" rx="1" vector-effect="non-scaling-stroke"/>
<line x1="852.1" y1="101.4" x2="869.1" y2="101.4" stroke-width="0.9" vector-effect="non-scaling-stroke"/>
<rect x="854.3" y="119.5" width="12" height="7" stroke-width="1.7" rx="1" vector-effect="non-scaling-stroke"/>
<rect x="854.3" y="131" width="12" height="7" stroke-width="1.7" rx="1" vector-effect="non-scaling-stroke"/>
<rect x="850.6" y="142.5" width="20" height="10" stroke-width="1.7" rx="1" vector-effect="non-scaling-stroke"/>
<line x1="852.1" y1="144.9" x2="869.1" y2="144.9" stroke-width="0.9" vector-effect="non-scaling-stroke"/>
<rect x="850.6" y="167.5" width="20" height="10" stroke-width="1.7" rx="1" vector-effect="non-scaling-stroke"/>
<line x1="852.1" y1="169.9" x2="869.1" y2="169.9" stroke-width="0.9" vector-effect="non-scaling-stroke"/>
<rect x="854.3" y="188" width="12" height="7" stroke-width="1.7" rx="1" vector-effect="non-scaling-stroke"/>
<rect x="854.3" y="199.5" width="12" height="7" stroke-width="1.7" rx="1" vector-effect="non-scaling-stroke"/>
<rect x="850.6" y="211" width="20" height="10" stroke-width="1.7" rx="1" vector-effect="non-scaling-stroke"/>
<line x1="852.1" y1="213.4" x2="869.1" y2="213.4" stroke-width="0.9" vector-effect="non-scaling-stroke"/>
<rect x="850.6" y="236" width="20" height="10" stroke-width="1.7" rx="1" vector-effect="non-scaling-stroke"/>
<line x1="852.1" y1="238.4" x2="869.1" y2="238.4" stroke-width="0.9" vector-effect="non-scaling-stroke"/>
<rect x="854.3" y="256.5" width="12" height="7" stroke-width="1.7" rx="1" vector-effect="non-scaling-stroke"/>
<rect x="854.3" y="268" width="12" height="7" stroke-width="1.7" rx="1" vector-effect="non-scaling-stroke"/>
<rect x="850.6" y="279.5" width="20" height="10" stroke-width="1.7" rx="1" vector-effect="non-scaling-stroke"/>
<line x1="852.1" y1="281.9" x2="869.1" y2="281.9" stroke-width="0.9" vector-effect="non-scaling-stroke"/>
<rect x="850.6" y="304.5" width="20" height="10" stroke-width="1.7" rx="1" vector-effect="non-scaling-stroke"/>
<line x1="852.1" y1="306.9" x2="869.1" y2="306.9" stroke-width="0.9" vector-effect="non-scaling-stroke"/>
<rect x="854.3" y="325" width="12" height="7" stroke-width="1.7" rx="1" vector-effect="non-scaling-stroke"/>
<rect x="854.3" y="336.5" width="12" height="7" stroke-width="1.7" rx="1" vector-effect="non-scaling-stroke"/>
<rect x="850.6" y="348" width="20" height="10" stroke-width="1.7" rx="1" vector-effect="non-scaling-stroke"/>
<line x1="852.1" y1="350.4" x2="869.1" y2="350.4" stroke-width="0.9" vector-effect="non-scaling-stroke"/>
<rect x="850.6" y="373" width="20" height="10" stroke-width="1.7" rx="1" vector-effect="non-scaling-stroke"/>
<line x1="852.1" y1="375.4" x2="869.1" y2="375.4" stroke-width="0.9" vector-effect="non-scaling-stroke"/>
<rect x="854.3" y="393.5" width="12" height="7" stroke-width="1.7" rx="1" vector-effect="non-scaling-stroke"/>
<rect x="854.3" y="405" width="12" height="7" stroke-width="1.7" rx="1" vector-effect="non-scaling-stroke"/>
<rect x="850.6" y="416.5" width="20" height="10" stroke-width="1.7" rx="1" vector-effect="non-scaling-stroke"/>
<line x1="852.1" y1="418.9" x2="869.1" y2="418.9" stroke-width="0.9" vector-effect="non-scaling-stroke"/>
<circle cx="842.5" cy="93.1" r="2.6" stroke-width="1.2" vector-effect="non-scaling-stroke"/>
<circle cx="842.5" cy="102.8" r="2.6" stroke-width="1.2" vector-effect="non-scaling-stroke"/>
<circle cx="842.5" cy="120.9" r="2.6" stroke-width="1.2" vector-effect="non-scaling-stroke"/>
<circle cx="842.5" cy="128.7" r="2.6" stroke-width="1.2" vector-effect="non-scaling-stroke"/>
<circle cx="842.5" cy="137.6" r="2.6" stroke-width="1.2" vector-effect="non-scaling-stroke"/>
<circle cx="842.5" cy="173.3" r="2.6" stroke-width="1.2" vector-effect="non-scaling-stroke"/>
<circle cx="842.5" cy="182.2" r="2.6" stroke-width="1.2" vector-effect="non-scaling-stroke"/>
<circle cx="842.5" cy="189.6" r="2.6" stroke-width="1.2" vector-effect="non-scaling-stroke"/>
<circle cx="842.5" cy="208.5" r="2.6" stroke-width="1.2" vector-effect="non-scaling-stroke"/>
<circle cx="842.5" cy="217.8" r="2.6" stroke-width="1.2" vector-effect="non-scaling-stroke"/>
<circle cx="842.5" cy="234.4" r="2.6" stroke-width="1.2" vector-effect="non-scaling-stroke"/>
<circle cx="842.5" cy="243.7" r="2.6" stroke-width="1.2" vector-effect="non-scaling-stroke"/>
<circle cx="842.5" cy="262.6" r="2.6" stroke-width="1.2" vector-effect="non-scaling-stroke"/>
<circle cx="842.5" cy="269.4" r="2.6" stroke-width="1.2" vector-effect="non-scaling-stroke"/>
<circle cx="842.5" cy="278.7" r="2.6" stroke-width="1.2" vector-effect="non-scaling-stroke"/>
<circle cx="842.5" cy="314.8" r="2.6" stroke-width="1.2" vector-effect="non-scaling-stroke"/>
<circle cx="842.5" cy="323.7" r="2.6" stroke-width="1.2" vector-effect="non-scaling-stroke"/>
<circle cx="842.5" cy="330.9" r="2.6" stroke-width="1.2" vector-effect="non-scaling-stroke"/>
<circle cx="842.5" cy="350" r="2.6" stroke-width="1.2" vector-effect="non-scaling-stroke"/>
<circle cx="842.5" cy="358.9" r="2.6" stroke-width="1.2" vector-effect="non-scaling-stroke"/>
<circle cx="842.5" cy="375.9" r="2.6" stroke-width="1.2" vector-effect="non-scaling-stroke"/>
<circle cx="842.5" cy="385.2" r="2.6" stroke-width="1.2" vector-effect="non-scaling-stroke"/>
<circle cx="842.5" cy="403.7" r="2.6" stroke-width="1.2" vector-effect="non-scaling-stroke"/>
<circle cx="842.5" cy="420" r="2.6" stroke-width="1.2" vector-effect="non-scaling-stroke"/>
<circle cx="875.6" cy="147.2" r="2.6" stroke-width="1.2" vector-effect="non-scaling-stroke"/>
<circle cx="875.6" cy="163" r="2.6" stroke-width="1.2" vector-effect="non-scaling-stroke"/>
<circle cx="875.6" cy="288.9" r="2.6" stroke-width="1.2" vector-effect="non-scaling-stroke"/>
<circle cx="875.6" cy="304.6" r="2.6" stroke-width="1.2" vector-effect="non-scaling-stroke"/>
<circle cx="875.6" cy="430" r="2.6" stroke-width="1.2" vector-effect="non-scaling-stroke"/>
<path d="M724.3 144 H823 A16.4 16.4 0 0 1 823 176.8 H724.3" fill="#d2d8df" vector-effect="non-scaling-stroke"/>
<line x1="728" y1="144" x2="728" y2="176.8" vector-effect="non-scaling-stroke"/>
<circle cx="805" cy="160.4" r="1.6" vector-effect="non-scaling-stroke"/>
<circle cx="821.3" cy="160.4" r="8.2" stroke-width="1.6" vector-effect="non-scaling-stroke"/>
<circle cx="821.3" cy="160.4" r="4.8" stroke-width="1.1" vector-effect="non-scaling-stroke"/>
</g>
</g>
<g stroke="#e04a55" stroke-width="1.3" fill="none">
<line x1="67.1" y1="46" x2="67.1" y2="73.5"/>
<line x1="67.1" y1="58" x2="110.4" y2="57.5"/>
<line x1="175.2" y1="57" x2="217.5" y2="56.8"/>
<line x1="217.5" y1="43.6" x2="217.5" y2="71.4"/>
<line x1="314.2" y1="55.5" x2="314.2" y2="90.6"/>
<line x1="314.2" y1="70.9" x2="448.2" y2="70.9"/>
<line x1="491.3" y1="70.9" x2="626.3" y2="70.9"/>
<line x1="626.3" y1="55.5" x2="626.3" y2="90.6"/>
<line x1="768.4" y1="49.5" x2="768.4" y2="79.6"/>
<line x1="768.4" y1="62.7" x2="817.1" y2="62.7"/>
<line x1="871.4" y1="61.2" x2="899.9" y2="61.2"/>
<line x1="899.9" y1="48" x2="899.9" y2="78.8"/>
<line x1="919" y1="82.8" x2="949.7" y2="82.3"/>
<line x1="937.1" y1="82.6" x2="937.3" y2="221.6"/>
<line x1="938.4" y1="282.7" x2="938.9" y2="435.2"/>
<line x1="927.1" y1="435.6" x2="958.1" y2="434.9"/>
</g>
<g fill="#dc2730" font-family="Liberation Sans, sans-serif" font-weight="bold">
<text x="0" y="0" font-size="22" transform="translate(128.4,64.6) scale(0.875,1)">150</text>
<text x="0" y="0" font-size="26.2" transform="translate(450.6,81.1) scale(0.86,1)">291</text>
<text x="0" y="0" font-size="23.8" transform="translate(826.8,71.4) scale(0.89,1)">125</text>
<text x="0" y="0" font-size="23.6" transform="translate(931,235) rotate(90) scale(0.89,1)">440</text>
</g>
<text transform="scale(1.25,1)" y="528.3" x="970.44 989.49 1006.18 1015.28 1027.1 1038.29 1061.49" font-family="Liberation Sans, sans-serif" font-weight="bold" font-size="26" fill="#221e1f" stroke="#221e1f" stroke-width="0.6">Unit<tspan font-weight="normal" stroke-width="0" font-size="24">:</tspan>mm</text>
</svg></body></html>
